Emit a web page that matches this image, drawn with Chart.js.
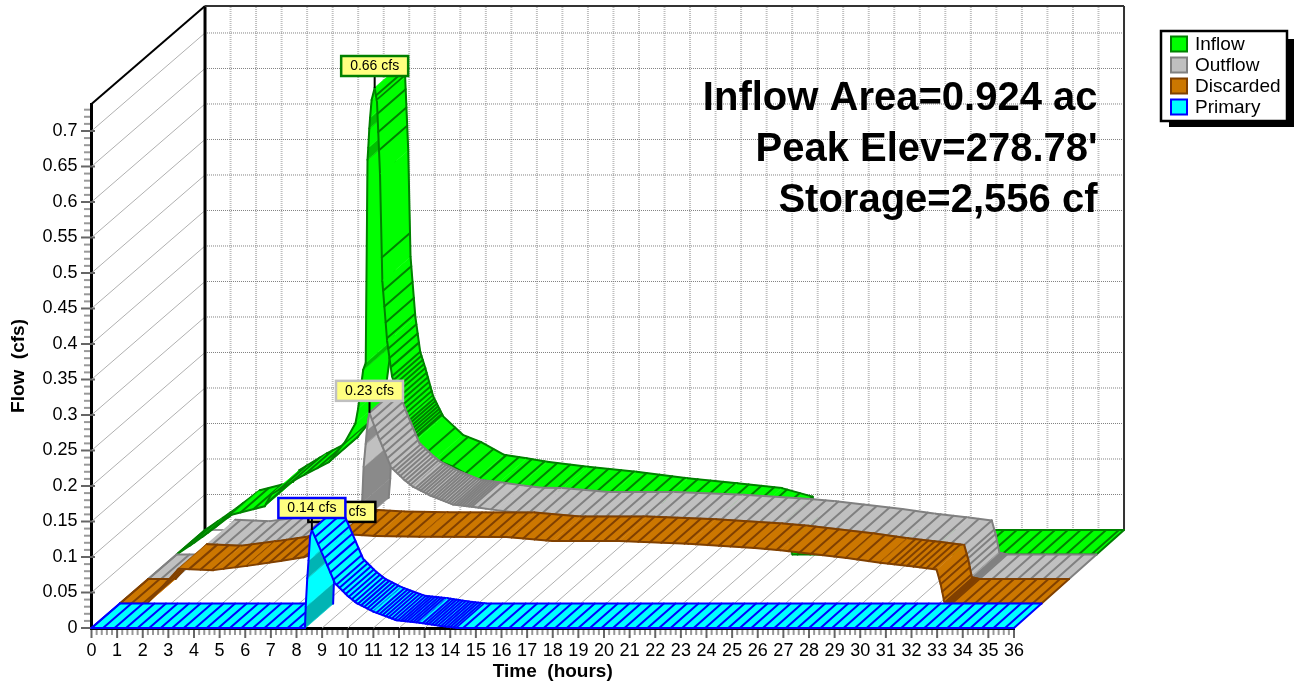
<!DOCTYPE html>
<html><head><meta charset="utf-8">
<style>html,body{margin:0;padding:0;background:#fff}canvas{display:block}</style>
<script src="https://cdn.jsdelivr.net/npm/chart.js@4"></script>
</head><body><canvas id="c" width="1294" height="686"></canvas>
<script>
const seriesNames = ['Primary','Discarded','Outflow','Inflow'];
const peakLabels = ['0.14 cfs','0.10 cfs','0.23 cfs','0.66 cfs'];
const infoLines = ['Inflow Area=0.924 ac',"Peak Elev=278.78'",'Storage=2,556 cf'];
const legendOrder = ['Inflow','Outflow','Discarded','Primary'];

const primaryT = [0,8.33,8.36,8.42,8.47,8.53,8.6,9,9.5,10,10.35,11,11.9,12.8,13.6,14.3,36];
const primaryV = [0,0,0.03,0.07,0.095,0.129,0.138,0.105,0.063,0.045,0.035,0.023,0.011,0.0075,0.003,0,0];

const discardedT = [0,1.06,2.3,3.65,4.97,6.27,7.17,7.8,8.3,8.67,10,11.7,15.1,16.9,19.5,22.2,24.8,25.8,28.4,29.7,31,31.9,32.05,32.2,32.5,36];
const discardedV = [0,0,0.049,0.047,0.053,0.06,0.065,0.072,0.085,0.098,0.095,0.094,0.0935,0.088,0.088,0.084,0.078,0.075,0.064,0.0575,0.052,0.048,0.029,0.0026,0,0];

const outflowT = [0,1.06,2.3,3.65,4.97,6.27,7.17,7.8,8.3,8.36,8.42,8.5,8.55,8.6,8.65,9,9.5,10,10.35,11,11.9,12.8,13.6,14.3,15.1,16.9,19.5,22.2,24.8,25.8,28.4,29.7,31,31.9,32.05,32.2,32.5,36];
const outflowV = [0,0,0.049,0.047,0.053,0.06,0.065,0.072,0.08,0.107,0.158,0.19,0.21,0.225,0.234,0.2,0.157,0.14,0.13,0.118,0.105,0.101,0.097,0.094,0.0935,0.088,0.088,0.084,0.078,0.075,0.064,0.0575,0.052,0.048,0.029,0.0026,0,0];

const inflowT = [0,0.7,1.24,2.15,3.45,3.7,4.77,5.96,6.6,7,7.1,7.3,7.4,7.47,7.5,7.54,7.57,7.63,7.75,7.84,7.96,8.05,8.24,8.43,8.63,8.94,9.33,10.1,10.8,11.7,12.6,13.4,15,16.9,18.9,20.85,22.6,23.8,24.1,36];
const inflowV = [0,0.017,0.031,0.056,0.068,0.0845,0.108,0.13,0.159,0.185,0.205,0.26,0.27,0.556,0.573,0.6,0.615,0.64,0.657,0.638,0.535,0.385,0.3,0.251,0.228,0.188,0.16,0.134,0.124,0.106,0.101,0.096,0.089,0.082,0.073,0.066,0.059,0.047,0,0];

const styles = [
 {fill:'#00FFFF',dark:'#00B4B4',line:'#0000FF',hatch:[[0,8.3,0.45],[8.6,14.3,0.12],[14.5,36,0.45]],shade:[[8.33,8.36],[8.42,8.47]],labelBorder:'#0000FF'},
 {fill:'#CC7700',dark:'#A86200',line:'#804000',hatch:[[0,30,0.45],[30,32,0.25],[32,32.5,0.06],[32.5,36,0.45]],shade:[],labelBorder:'#000000'},
 {fill:'#C0C0C0',dark:'#8A8A8A',line:'#808080',hatch:[[0,8.3,0.5],[8.65,12.7,0.1],[12.9,32,0.5],[32,32.5,0.05],[32.5,36,0.5]],shade:[[8.3,8.42],[8.5,8.55]],labelBorder:'#C0C0C0'},
 {fill:'#00FF00',dark:'#00C000',line:'#008000',hatch:[[0,7,0.5],[7.8,7.95,0.03],[8.03,9.3,0.05],[9.3,36,0.5]],shade:[[7.3,7.4],[7.47,7.5],[7.54,7.57]],labelBorder:'#008000'}
];
const times = [primaryT,discardedT,outflowT,inflowT];
const flows = [primaryV,discardedV,outflowV,inflowV];

const DEPTH_T = 4.43, DEPTH_V = 98/710, SHRINK = 0.0038, SLOTS = 4;
const projX = (t,d) => t*(1-SHRINK*d/SLOTS) + DEPTH_T*d/SLOTS;
const projY = (v,d) => v + DEPTH_V*d/SLOTS;
const ribbon = k => {
  const t = times[k], v = flows[k], pts = [];
  t.forEach((x,i)=>pts.push({x:projX(x,k),y:projY(v[i],k)}));
  for(let i=t.length-1;i>=0;i--) pts.push({x:projX(t[i],k+1),y:projY(v[i],k+1)});
  return pts;
};
const FONT = '"Liberation Sans", Arial, sans-serif';
const hatchTimes = k => { const o=[]; for(const [a,b,s] of styles[k].hatch){ for(let h=a;h<b-1e-6;h+=s) o.push(h);} return o; };

const wallPlugin = {
  id:'walls',
  beforeDatasetsDraw(chart){
    const {ctx,scales:{x,y}} = chart;
    const P=(t,v,d)=>[x.getPixelForValue(projX(t,d)),y.getPixelForValue(projY(v,d))];
    const seg=(a,b)=>{ctx.beginPath();ctx.moveTo(a[0],a[1]);ctx.lineTo(b[0],b[1]);ctx.stroke();};
    ctx.save();
    ctx.lineCap='butt';
    ctx.strokeStyle='#B0B0B0';ctx.lineWidth=1;
    for(let t=0;t<=36;t++) seg(P(t,0,0),P(t,0,4));
    for(let i=1;i<=14;i++) seg(P(0,i*0.05,0),P(0,i*0.05,4));
    ctx.setLineDash([1,1]);ctx.strokeStyle='#BEBEBE';ctx.lineWidth=2;
    for(let t=1;t<36;t++) seg(P(t,0,4),P(t,0.738,4));
    ctx.setLineDash([1,1]);ctx.strokeStyle='#808080';ctx.lineWidth=1;
    for(let i=1;i<=14;i++) seg(P(0,i*0.05,4),P(36,i*0.05,4));
    ctx.setLineDash([]);
    ctx.strokeStyle='#000';ctx.lineWidth=3;seg(P(0,0,4),P(0,0.738,4));
    ctx.lineWidth=2;seg(P(0,0.738,0),P(0,0.738,4));
    ctx.strokeStyle='#333';seg(P(0,0.738,4),P(36,0.738,4));seg(P(36,0,4),P(36,0.738,4));
    ctx.lineWidth=1;seg(P(0,0,4),P(36,0,4));
    // ticks
    ctx.lineWidth=2;
    for(let i=0;i<=73;i++){const p=y.getPixelForValue(i*0.01);const maj=i%5===0;
      ctx.strokeStyle=maj?'#666':'#989898';
      ctx.beginPath();ctx.moveTo(maj?81:84,p);ctx.lineTo(maj?95:90,p);ctx.stroke();}
    for(let i=0;i<=180;i++){const p=x.getPixelForValue(i*0.2);const maj=i%5===0;
      ctx.strokeStyle=maj?'#666':'#989898';
      ctx.beginPath();ctx.moveTo(p,630);ctx.lineTo(p,maj?638:635);ctx.stroke();}
    ctx.restore();
  },
  afterDatasetDraw(chart,args){
    const k=args.index; const {ctx}=chart; const st=styles[k]; const t=times[k];
    const pts=args.meta.data; const n=t.length;
    const F=i=>pts[i], B=i=>pts[2*n-1-i];
    const hatches=hatchTimes(k);
    const lerp=(a,b,f)=>[a.x+(b.x-a.x)*f,a.y+(b.y-a.y)*f];
    ctx.save();ctx.lineJoin='round';ctx.lineCap='round';
    const edge=(a,b)=>{ctx.beginPath();ctx.moveTo(a.x,a.y);ctx.lineTo(b.x,b.y);ctx.stroke();};
    for(let i=0;i<n-1;i++){
      const shaded=st.shade.some(([a,b])=>t[i]>=a-1e-9&&t[i+1]<=b+1e-9);
      const col=shaded?st.dark:st.fill;
      ctx.beginPath();ctx.moveTo(F(i).x,F(i).y);ctx.lineTo(F(i+1).x,F(i+1).y);ctx.lineTo(B(i+1).x,B(i+1).y);ctx.lineTo(B(i).x,B(i).y);ctx.closePath();
      ctx.fillStyle=col;ctx.fill();ctx.strokeStyle=col;ctx.lineWidth=0.6;ctx.stroke();
      ctx.strokeStyle=st.line;ctx.lineWidth=2;
      for(const h of hatches){ if(h>=t[i]&&h<t[i+1]){
        const f=(h-t[i])/(t[i+1]-t[i]);const a=lerp(F(i),F(i+1),f),b=lerp(B(i),B(i+1),f);
        ctx.beginPath();ctx.moveTo(a[0],a[1]);ctx.lineTo(b[0],b[1]);ctx.stroke();}}
      ctx.lineWidth=2;edge(F(i),F(i+1));edge(B(i),B(i+1));
    }
    ctx.lineWidth=2;edge(F(0),B(0));edge(F(n-1),B(n-1));
    // peak callout
    const v=flows[k];let pk=0;v.forEach((q,i)=>{if(q>v[pk])pk=i;});
    const p=F(pk);const w=67,h=20,top=p.y-12-h,left=p.x-w/2;
    ctx.lineCap='butt';ctx.strokeStyle='#000';ctx.lineWidth=2;ctx.beginPath();ctx.moveTo(p.x,top+h);ctx.lineTo(p.x,p.y);ctx.stroke();
    ctx.fillStyle='#FFFF80';ctx.fillRect(left,top,w,h);
    ctx.strokeStyle=st.labelBorder;ctx.lineJoin='miter';ctx.lineWidth=2.5;ctx.strokeRect(left,top,w,h);
    ctx.fillStyle='#000';ctx.font='14px '+FONT;ctx.textAlign='center';ctx.textBaseline='middle';
    ctx.fillText(peakLabels[k],p.x,top+h/2+0.5);
    ctx.restore();
  },
  afterDraw(chart){
    const {ctx}=chart;ctx.save();
    ctx.fillStyle='#000';ctx.font='bold 40px '+FONT;ctx.textAlign='right';ctx.textBaseline='alphabetic';
    infoLines.forEach((s,i)=>ctx.fillText(s,1097.5,110+i*51));
    // legend
    ctx.fillStyle='#000';ctx.fillRect(1169,39,125,88);
    ctx.fillStyle='#fff';ctx.fillRect(1161,31,126,90);
    ctx.strokeStyle='#000';ctx.lineWidth=2.5;ctx.strokeRect(1161,31,126,90);
    ctx.font='19px '+FONT;ctx.textAlign='left';ctx.textBaseline='middle';
    legendOrder.forEach((name,i)=>{
      const st=styles[seriesNames.indexOf(name)];const yy=36.5+i*21;
      ctx.fillStyle=st.fill;ctx.fillRect(1171,yy,16,15);
      ctx.strokeStyle=st.line;ctx.lineWidth=2;ctx.strokeRect(1171,yy,16,15);
      ctx.fillStyle='#000';ctx.fillText(name,1195,yy+8.5);
    });
    ctx.restore();
  }
};

new Chart(document.getElementById('c'),{
  type:'line',
  data:{datasets:seriesNames.map((name,k)=>({label:name,data:ribbon(k),showLine:false,pointRadius:0,pointHoverRadius:0,clip:false,order:k,borderColor:styles[k].line,backgroundColor:styles[k].fill}))},
  plugins:[wallPlugin],
  options:{
    responsive:false,animation:false,devicePixelRatio:1,
    parsing:false,normalized:false,
    layout:{padding:{top:104,right:280,left:0,bottom:0}},
    plugins:{legend:{display:false},tooltip:{enabled:false},title:{display:false}},
    events:[],
    scales:{
      x:{type:'linear',min:0,max:36,
        afterFit(s){s.height=58;},
        grid:{drawOnChartArea:false,drawTicks:false},
        border:{display:true,color:'#000',width:3},
        ticks:{stepSize:1,autoSkip:false,maxRotation:0,minRotation:0,includeBounds:false,padding:12,color:'#000',font:{family:FONT,size:18}},
        title:{display:true,text:'Time  (hours)',color:'#000',font:{family:FONT,size:19,weight:'bold'},padding:{top:0,bottom:3}}},
      y:{type:'linear',min:0,max:0.738,
        afterFit(s){s.width=91.5;},
        grid:{drawOnChartArea:false,drawTicks:false},
        border:{display:true,color:'#000',width:3},
        ticks:{stepSize:0.05,autoSkip:false,includeBounds:false,padding:14,color:'#000',font:{family:FONT,size:18},callback:v=>String(+v.toFixed(2))},
        title:{display:true,text:'Flow  (cfs)',color:'#000',font:{family:FONT,size:19,weight:'bold'},padding:{top:7,bottom:0}}}
    }
  }
});
</script></body></html>
